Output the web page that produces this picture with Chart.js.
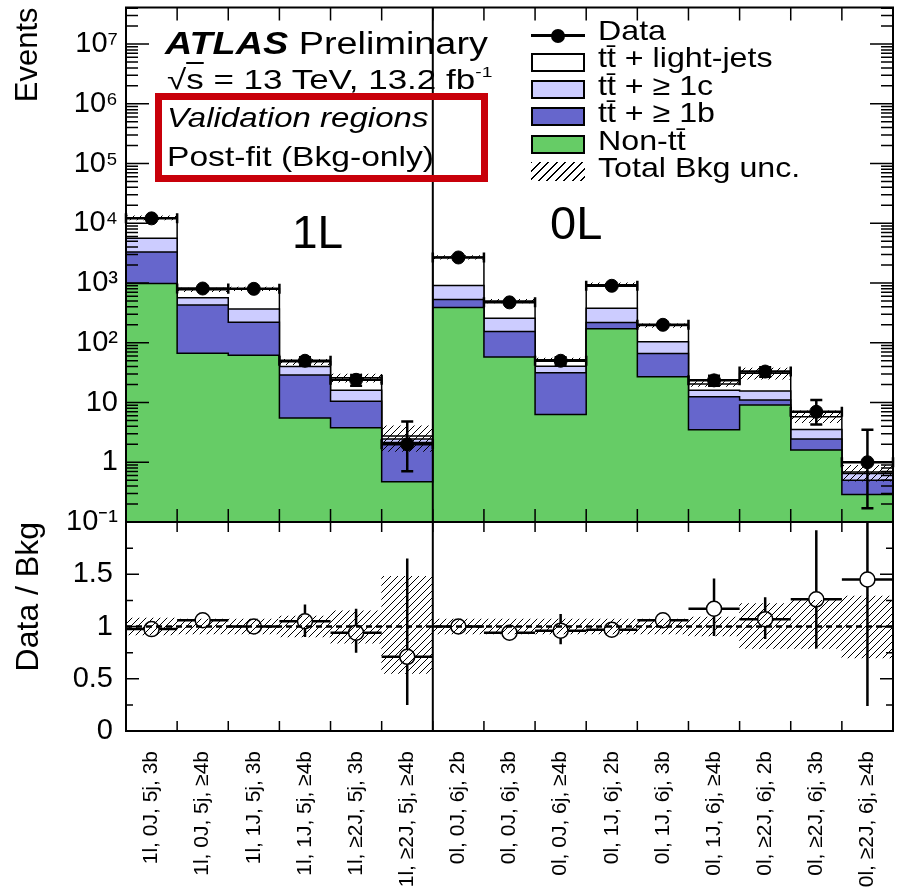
<!DOCTYPE html>
<html>
<head>
<meta charset="utf-8">
<title>Validation regions, post-fit (Bkg-only)</title>
<script src="https://cdn.jsdelivr.net/npm/chart.js@4.4.1/dist/chart.umd.min.js"></script>
<style>
  body { margin: 0; background: #fff; }
  #wrap { position: relative; width: 912px; height: 890px; overflow: hidden; font-family: "Liberation Sans", Arial, sans-serif; color: #000; }
  #wrap canvas { position: absolute; left: 0; }
  #cTop { top: 0; }
  #cRatio { top: 505px; }
  .txt { position: absolute; white-space: nowrap; line-height: 1; transform-origin: 0 0; }
  .sup { font-size: 0.55em; position: relative; top: -0.75em; }
  #vbox { position: absolute; left: 155px; top: 93px; width: 333px; height: 89px; box-sizing: border-box; border: 7px solid #c8000a; }
  .lgbox { position: absolute; left: 531px; width: 54px; height: 19px; box-sizing: border-box; border: 2px solid #000; }
  .lgtxt { position: absolute; left: 598px; font-size: 28px; line-height: 1; white-space: nowrap; transform: scaleX(1.15); transform-origin: 0 0; }
</style>
</head>
<body>
<div id="wrap">
  <canvas id="cTop" width="912" height="545"></canvas>
  <canvas id="cRatio" width="912" height="385"></canvas>

  <div class="txt" style="left:165px;top:28px;font-size:31px;transform:scaleX(1.22)"><b><i>ATLAS</i></b> Preliminary</div>
  <div class="txt" style="left:167px;top:66px;font-size:28px;transform:scaleX(1.25)">√<span style="text-decoration:overline">s</span> = 13 TeV, 13.2 fb<span class="sup">-1</span></div>
  <div id="vbox"></div>
  <div class="txt" style="left:167px;top:104px;font-size:28px;transform:scaleX(1.18)"><i>Validation regions</i></div>
  <div class="txt" style="left:167px;top:143px;font-size:28px;transform:scaleX(1.2)">Post-fit (Bkg-only)</div>
  <div class="txt" style="left:292px;top:209px;font-size:46px">1L</div>
  <div class="txt" style="left:550px;top:199px;font-size:47px">0L</div>

  <div style="position:absolute;left:531px;top:34px;width:54px;height:3px;background:#000"></div>
  <div style="position:absolute;left:551px;top:29px;width:14px;height:14px;border-radius:50%;background:#000"></div>
  <div class="lgbox" style="top:53px;background:#ffffff"></div>
  <div class="lgbox" style="top:80px;background:#ccccff"></div>
  <div class="lgbox" style="top:107px;background:#6666cc"></div>
  <div class="lgbox" style="top:135px;background:#66cc66"></div>
  <div class="lgbox" style="top:162px;border:none;background:repeating-linear-gradient(135deg,#000 0 1.2px,transparent 1.2px 6px)"></div>
  <div class="lgtxt" style="top:17px">Data</div>
  <div class="lgtxt" style="top:44px">tt̄ + light-jets</div>
  <div class="lgtxt" style="top:72px">tt̄ + ≥ 1c</div>
  <div class="lgtxt" style="top:99px">tt̄ + ≥ 1b</div>
  <div class="lgtxt" style="top:127px">Non-tt̄</div>
  <div class="lgtxt" style="top:154px">Total Bkg unc.</div>
</div>

<script>
const regions = [
    '1l, 0J, 5j, 3b', '1l, 0J, 5j, ≥4b', '1l, 1J, 5j, 3b', '1l, 1J, 5j, ≥4b',
    '1l, ≥2J, 5j, 3b', '1l, ≥2J, 5j, ≥4b',
    '0l, 0J, 6j, 2b', '0l, 0J, 6j, 3b', '0l, 0J, 6j, ≥4b', '0l, 1J, 6j, 2b',
    '0l, 1J, 6j, 3b', '0l, 1J, 6j, ≥4b', '0l, ≥2J, 6j, 2b', '0l, ≥2J, 6j, 3b',
    '0l, ≥2J, 6j, ≥4b'
];
const splitAt = 6; // 1L | 0L

// background yields per region
const nonTtbar   = [980, 67, 62, 5.5, 3.8, 0.47, 390, 58, 6.3, 172, 27, 3.5, 9.1, 1.6, 0.29];
const ttbarB     = [2320, 363, 158, 23.5, 6.7, 1.68, 140, 97, 25.2, 46, 39, 9, 1.9, 0.85, 0.21];
const ttbarC     = [2300, 140, 147, 11, 5.5, 0.3, 380, 102, 9, 160, 38, 3.5, 4.6, 1.1, 0.15];
const ttbarLight = [6800, 200, 433, 8, 10, 0.3, 1790, 243, 11.5, 562, 91, 4.5, 15.4, 2.25, 0.04];

// relative total bkg uncertainty (band)
const bkgUncLow  = [0.92, 0.93, 0.93, 0.90, 0.84, 0.55, 0.93, 0.93, 0.93, 0.93, 0.93, 0.91, 0.79, 0.79, 0.70];
const bkgUncHigh = [1.08, 1.07, 1.07, 1.10, 1.15, 1.48, 1.07, 1.07, 1.07, 1.07, 1.07, 1.09, 1.22, 1.25, 1.29];

// data
const dataEvents = [12100, 810, 800, 50, 24, 2, 2680, 475, 50, 900, 200, 23.5, 33, 7, 1];
const dataLow    = [11990, 780, 772, 43, 19, 0.71, 2630, 453, 43, 870, 186, 19, 27, 4.3, 0.17];
const dataHigh   = [12210, 840, 828, 57, 29, 4.8, 2730, 497, 57, 930, 214, 28, 39, 11, 3.5];

// data / bkg
const ratioValues = [0.975, 1.06, 1.0, 1.05, 0.94, 0.71, 1.0, 0.94, 0.96, 0.97, 1.06, 1.17, 1.07, 1.26, 1.45];
const ratioLow    = [0.965, 1.03, 0.97, 0.90, 0.75, 0.25, 0.98, 0.90, 0.83, 0.94, 0.99, 0.91, 0.88, 0.79, 0.24];
const ratioHigh   = [0.985, 1.09, 1.03, 1.21, 1.17, 1.65, 1.02, 0.98, 1.12, 1.00, 1.13, 1.46, 1.28, 1.92, 2.30];

const eventDecades = [0.1, 1, 10, 100, 1e3, 1e4, 1e5, 1e6, 1e7];
const eventTickLabels = ['10⁻¹', '1', '10', '10²', '10³', '10⁴', '10⁵', '10⁶', '10⁷'];
const ratioTicks = [0, 0.5, 1, 1.5];
const ratioTickLabels = ['0', '0.5', '1', '1.5'];

const upTo = parts => regions.map((_, i) => parts.reduce((s, p) => s + p[i], 0));
const stackGreen = upTo([nonTtbar]);
const stackB = upTo([nonTtbar, ttbarB]);
const stackC = upTo([nonTtbar, ttbarB, ttbarC]);
const stackAll = upTo([nonTtbar, ttbarB, ttbarC, ttbarLight]);

// histogram outline points on bin edges
const steps = vals => vals.map((v, i) => ({x: i, y: v})).concat([{x: vals.length, y: vals[vals.length - 1]}]);
const centers = vals => vals.map((v, i) => ({x: i + 0.5, y: v}));

function hatchFor(id) {
    const tile = document.createElement('canvas');
    tile.width = 7;
    tile.height = 7;
    const g = tile.getContext('2d');
    g.strokeStyle = '#000';
    g.lineWidth = 1;
    g.beginPath();
    g.moveTo(0, 7); g.lineTo(7, 0);
    g.moveTo(-1, 1); g.lineTo(1, -1);
    g.moveTo(6, 8); g.lineTo(8, 6);
    g.stroke();
    return document.getElementById(id).getContext('2d').createPattern(tile, 'repeat');
}

function histo(vals, color, order) {
    return {
        type: 'line',
        data: steps(vals),
        stepped: 'before',
        fill: 'start',
        backgroundColor: color,
        borderColor: '#000',
        borderWidth: 1.5,
        pointRadius: 0,
        order: order
    };
}

// keep the plot frame where it is in the original, whatever the tick labels need
const noScalePad = s => { s.paddingTop = 0; s.paddingBottom = 0; s.paddingLeft = 0; s.paddingRight = 0; };

// frame, inward tick marks and the 1L/0L divider
const inwardTicks = {
    id: 'inwardTicks',
    afterDatasetsDraw(chart, args, o) {
        const {ctx, chartArea: a, scales: {x, y}} = chart;
        ctx.save();
        ctx.strokeStyle = '#000';
        ctx.lineWidth = 2;
        const xs = x.getPixelForValue(splitAt);
        ctx.beginPath();
        ctx.moveTo(xs, a.top);
        ctx.lineTo(xs, a.bottom);
        ctx.stroke();

        ctx.lineWidth = 1.5;
        ctx.beginPath();
        y.ticks.forEach(t => {
            const py = y.getPixelForValue(t.value);
            if (py < a.top - 1 || py > a.bottom + 1) return;
            const len = t.big ? o.yMajor : o.yMinor;
            ctx.moveTo(a.left, py); ctx.lineTo(a.left + len, py);
            ctx.moveTo(a.right, py); ctx.lineTo(a.right - len, py);
        });
        for (let i = 0; i <= regions.length; i++) {
            const px = x.getPixelForValue(i);
            ctx.moveTo(px, a.bottom); ctx.lineTo(px, a.bottom - o.xLen);
            ctx.moveTo(px, a.top); ctx.lineTo(px, a.top + o.xLen);
        }
        ctx.stroke();
        ctx.lineWidth = 2;
        ctx.strokeRect(a.left, a.top, a.width, a.height);
        ctx.restore();
    }
};

const dataBars = {
    id: 'dataBars',
    afterDatasetsDraw(chart) {
        const {ctx, scales: {x, y}} = chart;
        ctx.save();
        ctx.strokeStyle = '#000';
        ctx.lineWidth = 2.5;
        ctx.beginPath();
        dataEvents.forEach((v, i) => {
            const py = y.getPixelForValue(v);
            const x0 = x.getPixelForValue(i), x1 = x.getPixelForValue(i + 1), xc = x.getPixelForValue(i + 0.5);
            const hi = y.getPixelForValue(dataHigh[i]), lo = y.getPixelForValue(dataLow[i]);
            ctx.moveTo(x0, py); ctx.lineTo(x1, py);
            ctx.moveTo(x0, py - 5); ctx.lineTo(x0, py + 5);
            ctx.moveTo(x1, py - 5); ctx.lineTo(x1, py + 5);
            ctx.moveTo(xc, hi); ctx.lineTo(xc, lo);
            ctx.moveTo(xc - 6, hi); ctx.lineTo(xc + 6, hi);
            ctx.moveTo(xc - 6, lo); ctx.lineTo(xc + 6, lo);
        });
        ctx.stroke();
        ctx.restore();
    }
};

const ratioBars = {
    id: 'ratioBars',
    afterDatasetsDraw(chart) {
        const {ctx, chartArea: a, scales: {x, y}} = chart;
        const r = 7.5;
        ctx.save();
        ctx.beginPath();
        ctx.rect(a.left, a.top, a.width, a.height);
        ctx.clip();
        ctx.strokeStyle = '#000';
        ctx.lineWidth = 2.5;
        ctx.setLineDash([6, 4]);
        const p1 = y.getPixelForValue(1);
        ctx.beginPath();
        ctx.moveTo(a.left, p1);
        ctx.lineTo(a.right, p1);
        ctx.stroke();
        ctx.setLineDash([]);
        ctx.beginPath();
        ratioValues.forEach((v, i) => {
            const py = y.getPixelForValue(v);
            const x0 = x.getPixelForValue(i), x1 = x.getPixelForValue(i + 1), xc = x.getPixelForValue(i + 0.5);
            const hi = y.getPixelForValue(ratioHigh[i]), lo = y.getPixelForValue(ratioLow[i]);
            ctx.moveTo(x0, py); ctx.lineTo(xc - r, py);
            ctx.moveTo(xc + r, py); ctx.lineTo(x1, py);
            if (hi < py - r) { ctx.moveTo(xc, hi); ctx.lineTo(xc, py - r); }
            if (lo > py + r) { ctx.moveTo(xc, py + r); ctx.lineTo(xc, lo); }
        });
        ctx.stroke();
        ctx.restore();
    }
};

const topHatch = hatchFor('cTop');
const ratioHatch = hatchFor('cRatio');

new Chart(document.getElementById('cTop'), {
    type: 'bar',
    data: {
        datasets: [
            {
                type: 'line',
                label: 'Data',
                data: centers(dataEvents),
                showLine: false,
                pointRadius: 6.5,
                pointBackgroundColor: '#000',
                pointBorderColor: '#000',
                order: 0
            },
            {
                label: 'Total Bkg unc.',
                data: stackAll.map((t, i) => ({x: i + 0.5, y: [t * bkgUncLow[i], t * bkgUncHigh[i]]})),
                backgroundColor: topHatch,
                borderWidth: 0,
                barPercentage: 1,
                categoryPercentage: 1,
                grouped: false,
                order: 1
            },
            histo(stackGreen, '#66cc66', 2),
            histo(stackB, '#6666cc', 3),
            histo(stackC, '#ccccff', 4),
            histo(stackAll, '#ffffff', 5)
        ]
    },
    options: {
        responsive: false,
        animation: false,
        layout: {padding: {left: 0, right: 19, top: 5, bottom: 23}},
        plugins: {
            legend: {display: false},
            tooltip: {enabled: false},
            inwardTicks: {yMajor: 23, yMinor: 12, xLen: 13}
        },
        scales: {
            x: {type: 'linear', min: 0, max: regions.length, offset: false, display: false},
            y: {
                type: 'logarithmic',
                min: 0.1,
                max: 4.1e7,
                afterFit: s => { s.width = 126; noScalePad(s); },
                afterBuildTicks: s => {
                    const t = [];
                    eventDecades.forEach(d => {
                        t.push({value: d, big: true});
                        for (let m = 2; m <= 9; m++) {
                            if (d * m <= 4.1e7) t.push({value: d * m, big: false});
                        }
                    });
                    s.ticks = t;
                },
                grid: {display: false, drawTicks: false},
                border: {display: false},
                ticks: {
                    autoSkip: false,
                    padding: 8,
                    color: '#000',
                    font: {family: 'Liberation Sans', size: 29},
                    callback: v => {
                        const k = eventDecades.indexOf(v);
                        return k < 0 ? '' : eventTickLabels[k];
                    }
                },
                title: {
                    display: true,
                    text: 'Events',
                    align: 'end',
                    color: '#000',
                    font: {family: 'Liberation Sans', size: 31},
                    padding: {top: 10, bottom: 0}
                }
            }
        }
    },
    plugins: [dataBars, inwardTicks]
});

new Chart(document.getElementById('cRatio'), {
    type: 'bar',
    data: {
        datasets: [
            {
                type: 'line',
                label: 'Data / Bkg',
                data: centers(ratioValues),
                showLine: false,
                pointRadius: 7.5,
                pointBorderWidth: 1.5,
                pointBackgroundColor: 'rgba(0,0,0,0)',
                pointBorderColor: '#000',
                order: 0
            },
            {
                label: 'Total Bkg unc.',
                data: regions.map((_, i) => ({x: i + 0.5, y: [bkgUncLow[i], bkgUncHigh[i]]})),
                backgroundColor: ratioHatch,
                borderWidth: 0,
                barPercentage: 1,
                categoryPercentage: 1,
                grouped: false,
                order: 1
            }
        ]
    },
    options: {
        responsive: false,
        animation: false,
        layout: {padding: {left: 0, right: 19, top: 17, bottom: 0}},
        plugins: {
            legend: {display: false},
            tooltip: {enabled: false},
            inwardTicks: {yMajor: 13, yMinor: 7, xLen: 10}
        },
        scales: {
            x: {
                type: 'linear',
                min: 0,
                max: regions.length,
                offset: false,
                afterBuildTicks: s => { s.ticks = regions.map((_, i) => ({value: i + 0.5})); },
                afterFit: s => { s.height = 159; noScalePad(s); },
                grid: {display: false, drawTicks: false},
                border: {display: false},
                ticks: {
                    autoSkip: false,
                    minRotation: 90,
                    maxRotation: 90,
                    padding: 20,
                    color: '#000',
                    font: {family: 'Liberation Sans', size: 21},
                    callback: (v, i) => regions[i]
                }
            },
            y: {
                type: 'linear',
                min: 0,
                max: 2,
                afterFit: s => { s.width = 126; noScalePad(s); },
                afterBuildTicks: s => {
                    const t = [];
                    for (let v = 0; v <= 2; v += 0.25) t.push({value: v, big: ratioTicks.includes(v)});
                    s.ticks = t;
                },
                grid: {display: false, drawTicks: false},
                border: {display: false},
                ticks: {
                    autoSkip: false,
                    padding: 13,
                    color: '#000',
                    font: {family: 'Liberation Sans', size: 29},
                    callback: v => {
                        const k = ratioTicks.indexOf(v);
                        return k < 0 ? '' : ratioTickLabels[k];
                    }
                },
                title: {
                    display: true,
                    text: 'Data / Bkg',
                    align: 'end',
                    color: '#000',
                    font: {family: 'Liberation Sans', size: 32},
                    padding: {top: 10, bottom: 0}
                }
            }
        }
    },
    plugins: [ratioBars, inwardTicks]
});
</script>
</body>
</html>
